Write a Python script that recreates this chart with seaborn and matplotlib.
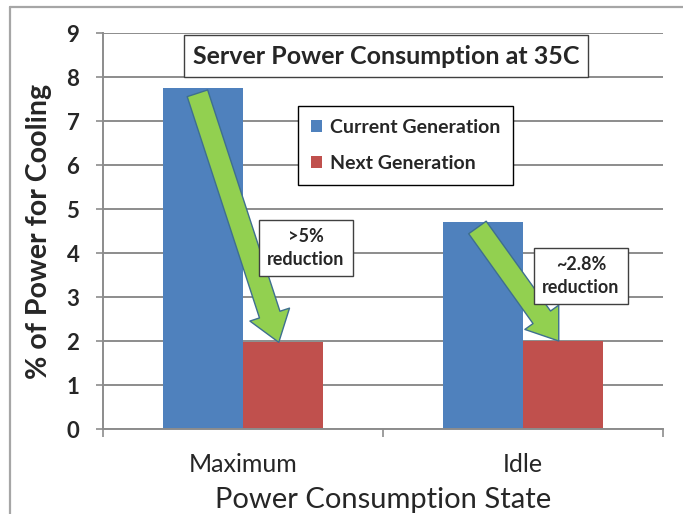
import matplotlib
matplotlib.use("Agg")
import matplotlib.pyplot as plt
import seaborn as sns
import pandas as pd
from matplotlib.patches import FancyArrowPatch, ArrowStyle, Rectangle
from matplotlib.lines import Line2D

# data
states = ["Maximum", "Idle"]
current_gen = [7.75, 4.7]
next_gen = [1.97, 2.0]
reduction_labels = [">5%\nreduction", "~2.8%\nreduction"]

BLUE = "#4F81BD"
RED = "#C0504D"
GREEN = "#92D050"
GRID = "#8C8C8C"

df = pd.DataFrame({
    "state": states * 2,
    "generation": ["Current Generation"] * 2 + ["Next Generation"] * 2,
    "value": current_gen + next_gen,
})

sns.set_theme(style="white")
plt.rcParams["font.family"] = ["Lato", "DejaVu Sans"]

W, H = 683, 514
fig = plt.figure(figsize=(W / 100, H / 100), dpi=100)
ax = fig.add_axes([103 / W, 1 - 429 / H, 560 / W, 396 / H])

sns.barplot(data=df, x="state", y="value", hue="generation",
            palette=[BLUE, RED], width=0.571, saturation=1,
            errorbar=None, linewidth=0, ax=ax, zorder=2)

ax.set_xlim(-0.5, 1.5)
ax.set_ylim(0, 9)
ax.set_yticks(range(10))
ax.yaxis.grid(True, color=GRID, linewidth=1.4, zorder=0)
ax.set_axisbelow(True)
for s in ["top", "right"]:
    ax.spines[s].set_visible(False)
for s in ["left", "bottom"]:
    ax.spines[s].set_color(GRID)
    ax.spines[s].set_linewidth(1.4)

ax.tick_params(axis="y", left=True, length=5, width=1.2, color=GRID,
               labelsize=16, pad=12)
for lbl in ax.get_yticklabels():
    lbl.set_fontweight("bold")
ax.set_xticks([-0.5, 0.5, 1.5], minor=True)
ax.tick_params(axis="x", which="major", length=0, labelsize=18, pad=17)
ax.tick_params(axis="x", which="minor", bottom=True, length=6, width=1.2,
               color=GRID)

ax.set_xlabel("Power Consumption State", fontsize=21, labelpad=8)
ax.set_ylabel("% of Power for Cooling", fontsize=20.5, fontweight="bold",
              labelpad=10)

# legend
handles, labels = ax.get_legend_handles_labels()
leg = ax.legend(handles, labels, loc="upper left",
                bbox_to_anchor=(298 / W, 1 - 106 / H),
                bbox_transform=fig.transFigure,
                prop={"size": 14, "weight": "bold"},
                frameon=True, fancybox=False, edgecolor="black",
                handlelength=0.6, handleheight=0.6, handletextpad=0.4,
                labelspacing=1.0, borderpad=0.65, borderaxespad=0,
                framealpha=1)
leg.get_frame().set_linewidth(1.0)

# green arrows from current to next generation bar
dx = 0.571 / 4
style = ArrowStyle.Simple(head_length=2.1, head_width=3.0, tail_width=1.55)
for i in range(len(states)):
    arr = FancyArrowPatch((i - dx - 0.02, current_gen[i] - 0.12),
                          (i + dx - 0.015, next_gen[i]),
                          arrowstyle=style, mutation_scale=10,
                          shrinkA=0, shrinkB=0, facecolor=GREEN,
                          edgecolor="#3E6F8F", linewidth=1.0, zorder=4)
    ax.add_patch(arr)

# reduction text boxes
box_pos = [(306 / W, 1 - 248 / H), (581 / W, 1 - 276 / H)]
for (bx, by), txt in zip(box_pos, reduction_labels):
    fig.text(bx, by, txt, ha="center", va="center", fontsize=13,
             fontweight="bold", linespacing=1.45, zorder=5,
             bbox=dict(boxstyle="square,pad=0.45", facecolor="white",
                       edgecolor="#404040", linewidth=1.0))

# title box
fig.add_artist(Rectangle((184 / W, 1 - 77 / H), 404 / W, 42 / H,
                         transform=fig.transFigure, facecolor="white",
                         edgecolor="#404040", linewidth=1.0, zorder=5))
fig.text(386 / W, 1 - 57 / H, "Server Power Consumption at 35C",
         ha="center", va="center", fontsize=18, fontweight="bold", zorder=6)

# outer chart frame (left and top edges visible)
fig.add_artist(Line2D([10 / W, 10 / W], [0, 1 - 7 / H],
                      transform=fig.transFigure, color="#A6A6A6", linewidth=1.6))
fig.add_artist(Line2D([10 / W, 1], [1 - 7 / H, 1 - 7 / H],
                      transform=fig.transFigure, color="#A6A6A6", linewidth=1.6))

fig.savefig("out.png", dpi=100, facecolor="white")
